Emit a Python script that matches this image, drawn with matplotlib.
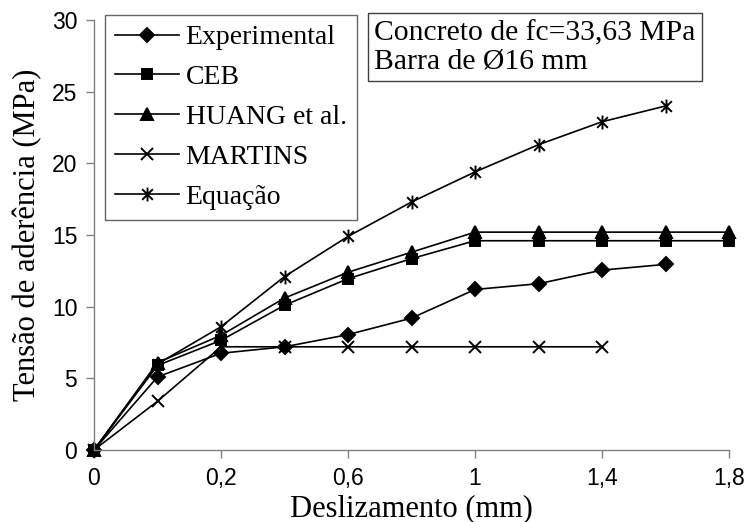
import numpy as np
import matplotlib.pyplot as plt
from matplotlib.path import Path

# categorias do eixo x (Excel: eixo de categorias, rotulo a cada 2)
desliz = ['0', '0,1', '0,2', '0,4', '0,6', '0,8', '1', '1,2', '1,4', '1,6', '1,8']

experimental = [0, 5.1, 6.75, 7.2, 8.05, 9.2, 11.2, 11.6, 12.55, 12.95]
ceb = [0, 5.9, 7.65, 10.1, 11.95, 13.35, 14.6, 14.6, 14.6, 14.6, 14.6]
huang = [0, 6.1, 8.0, 10.6, 12.4, 13.8, 15.2, 15.2, 15.2, 15.2, 15.2]
martins = [0, 3.4, 7.2, 7.2, 7.2, 7.2, 7.2, 7.2, 7.2]
equacao = [0, 6.0, 8.6, 12.1, 14.9, 17.3, 19.4, 21.3, 22.9, 24.0]

serif = 'Liberation Serif'
sans = 'Liberation Sans'

# asterisco estilo Excel (x + barra vertical)
ast = Path([(-1, -1), (1, 1), (-1, 1), (1, -1), (0, -1.3), (0, 1.3)],
           [Path.MOVETO, Path.LINETO, Path.MOVETO, Path.LINETO, Path.MOVETO, Path.LINETO])

fig = plt.figure(figsize=(7.48, 5.22), dpi=100)
ax = fig.add_axes([94/748, 72/522, 635/748, 430/522])

series = [
    (experimental, 'D', 7, 'Experimental'),
    (ceb, 's', 7, 'CEB'),
    (huang, '^', 8, 'HUANG et al.'),
    (martins, 'x', 9, 'MARTINS'),
    (equacao, ast, 10, 'Equação'),
]
for vals, mk, ms, lab in series:
    ax.plot(np.arange(len(vals)), vals, color='black', lw=1.2, marker=mk,
            ms=ms, mew=1.4, mfc='black', mec='black', label=lab, clip_on=False)

ax.set_xlim(0, len(desliz) - 1)
ax.set_ylim(0, 30)
ax.set_xticks(np.arange(0, len(desliz), 2))
ax.set_xticklabels(desliz[::2])
ax.set_yticks(np.arange(0, 31, 5))

for s in ['top', 'right']:
    ax.spines[s].set_visible(False)
for s in ['left', 'bottom']:
    ax.spines[s].set_color('#808080')
    ax.spines[s].set_linewidth(1.0)
ax.tick_params(direction='out', length=6, width=1, color='#808080',
               labelsize=16.5, pad=6)
for t in ax.get_xticklabels() + ax.get_yticklabels():
    t.set_fontfamily(sans)

ax.set_xlabel('Deslizamento (mm)', fontfamily=serif, fontsize=22, labelpad=3)
ax.set_ylabel('Tensão de aderência (MPa)', fontfamily=serif, fontsize=22, labelpad=7)

leg = ax.legend(loc='upper left', bbox_to_anchor=(0.017, 1.012),
                prop={'family': serif, 'size': 20}, frameon=True, fancybox=False,
                edgecolor='#404040', handlelength=2.3, labelspacing=0.52,
                borderpad=0.36, handletextpad=0.25, borderaxespad=0)
leg.get_frame().set_linewidth(1.0)

ax.text(0.441, 1.0, 'Concreto de fc=33,63 MPa\nBarra de Ø16 mm',
        transform=ax.transAxes, ha='left', va='top', fontfamily=serif,
        fontsize=21.3, linespacing=1.1,
        bbox=dict(boxstyle='square,pad=0.22', fc='white', ec='#404040', lw=1.0))

fig.savefig('out.png', dpi=100)
